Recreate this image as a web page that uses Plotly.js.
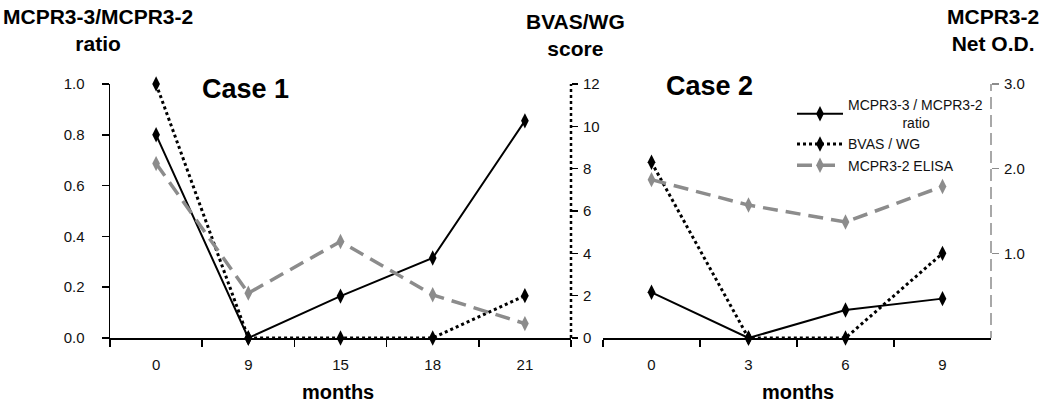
<!DOCTYPE html>
<html><head><meta charset="utf-8">
<script src="https://cdn.plot.ly/plotly-3.0.1.min.js"></script>
<style>html,body{margin:0;padding:0;background:#fff}#chart{width:1050px;height:405px}</style>
</head><body><div id="chart"></div>
<script>
// ---- data ----
const case1Months = ['0', '9', '15', '18', '21'];
const case1Ratio = [0.80, 0.00, 0.165, 0.315, 0.855];
const case1Bvas = [12, 0, 0, 0, 2];
const case1Elisa = [2.06, 0.53, 1.14, 0.51, 0.17];

const case2Months = ['0', '3', '6', '9'];
const case2Ratio = [0.18, 0.00, 0.11, 0.155];
const case2Bvas = [8.3, 0, 0, 4];
const case2Elisa = [1.87, 1.57, 1.37, 1.79];

const ratioTicks = [0, 0.2, 0.4, 0.6, 0.8, 1.0];
const bvasTicks = [0, 2, 4, 6, 8, 10, 12];
const odTicks = [1, 2, 3];

const seriesNames = ['MCPR3-3 / MCPR3-2<br>\u00a0\u00a0\u00a0\u00a0\u00a0\u00a0\u00a0\u00a0\u00a0\u00a0\u00a0\u00a0\u00a0\u00a0ratio', 'BVAS / WG', 'MCPR3-2 ELISA'];

// ---- styling ----
const FONT = 'Liberation Sans, Arial, sans-serif';
const GREY = '#8c8c8c';
const ratioStyle = {line: {color: '#000', width: 2}, marker: {symbol: 'diamond-tall', size: 11, color: '#000'}};
const bvasStyle = {line: {color: '#000', width: 3, dash: 'dot'}, marker: {symbol: 'diamond-tall', size: 11, color: '#000'}};
const elisaStyle = {line: {color: GREY, width: 3.5, dash: '15px,8px'}, marker: {symbol: 'diamond-tall', size: 11, color: GREY}};

function tr(x, y, xa, ya, st, name, show) {
  return Object.assign({
    type: 'scatter', mode: 'lines+markers', x: x, y: y, xaxis: xa, yaxis: ya,
    name: name, showlegend: show, cliponaxis: false, hoverinfo: 'skip'
  }, JSON.parse(JSON.stringify(st)));
}

const data = [
  tr(case1Months, case1Elisa, 'x', 'y3', elisaStyle, seriesNames[2], false),
  tr(case1Months, case1Bvas, 'x', 'y2', bvasStyle, seriesNames[1], false),
  tr(case1Months, case1Ratio, 'x', 'y', ratioStyle, seriesNames[0], false),
  tr(case2Months, case2Elisa, 'x2', 'y6', elisaStyle, seriesNames[2], true),
  tr(case2Months, case2Bvas, 'x2', 'y5', bvasStyle, seriesNames[1], true),
  tr(case2Months, case2Ratio, 'x2', 'y4', ratioStyle, seriesNames[0], true)
];
data[3].legendrank = 3; data[4].legendrank = 2; data[5].legendrank = 1;

const W = 1050, H = 405;
const yDom = [(H - 338) / H, (H - 84) / H];
const tickFont = {family: FONT, size: 15, color: '#111'};

const xBase = {
  type: 'category', tickson: 'boundaries', ticks: 'outside', ticklen: 7, tickwidth: 1.5, tickcolor: '#000',
  showline: true, linecolor: '#000', linewidth: 1.5, showgrid: false, zeroline: false,
  tickfont: tickFont, ticklabelstandoff: 12, fixedrange: true
};

const layout = {
  width: W, height: H, margin: {l: 0, r: 0, t: 0, b: 0},
  paper_bgcolor: '#fff', plot_bgcolor: 'rgba(0,0,0,0)',
  font: {family: FONT, color: '#000'},
  xaxis: Object.assign({}, xBase, {domain: [110 / W, 571 / W], anchor: 'y', range: [-0.5, 4.5]}),
  yaxis: {domain: yDom, anchor: 'x', range: [0, 1], tickvals: ratioTicks, tickformat: '.1f',
    ticks: 'outside', ticklen: 7, tickwidth: 1.5, tickcolor: '#000', showline: true, linecolor: '#000', linewidth: 1.5,
    showgrid: false, zeroline: false, tickfont: tickFont, ticklabelstandoff: 14},
  yaxis2: {overlaying: 'y', anchor: 'x', side: 'right', range: [0, 12], tickvals: bvasTicks,
    ticks: 'outside', ticklen: 6, tickwidth: 1.5, tickcolor: '#000', showline: false,
    showgrid: false, zeroline: false, tickfont: tickFont, ticklabelstandoff: 2},
  yaxis3: {overlaying: 'y', anchor: 'x', range: [0, 3], visible: false},
  xaxis2: Object.assign({}, xBase, {domain: [603 / W, 991 / W], anchor: 'y4', range: [-0.5, 3.5]}),
  yaxis4: {domain: yDom, anchor: 'x2', range: [0, 1], visible: false},
  yaxis5: {overlaying: 'y4', anchor: 'x2', range: [0, 12], visible: false},
  yaxis6: {overlaying: 'y4', anchor: 'x2', side: 'right', range: [0, 3], tickvals: odTicks, tickformat: '.1f',
    ticks: 'outside', ticklen: 7, tickwidth: 1.5, tickcolor: GREY, showline: false,
    showgrid: false, zeroline: false, tickfont: tickFont, ticklabelstandoff: 2},
  shapes: [
    {type: 'line', xref: 'x domain', yref: 'y2', x0: 1, x1: 1, y0: 0, y1: 12, line: {color: '#000', width: 2.5, dash: 'dot'}},
    {type: 'line', xref: 'x2 domain', yref: 'y6', x0: 1, x1: 1, y0: -0.06, y1: 3, line: {color: GREY, width: 1.5, dash: '12px,6px'}}
  ],
  legend: {x: 792 / W, y: (H - 89) / H, xanchor: 'left', yanchor: 'top', bgcolor: 'rgba(0,0,0,0)',
    font: {family: FONT, size: 14, color: '#111'}, itemwidth: 46, tracegroupgap: 0, traceorder: 'normal'},
  annotations: [
    {xref: 'paper', yref: 'paper', x: 245 / W, y: (H - 89) / H, text: '<b>Case 1</b>', showarrow: false,
      xanchor: 'center', yanchor: 'middle', font: {family: FONT, size: 27, color: '#000'}},
    {xref: 'paper', yref: 'paper', x: 709 / W, y: (H - 86) / H, text: '<b>Case 2</b>', showarrow: false,
      xanchor: 'center', yanchor: 'middle', font: {family: FONT, size: 27, color: '#000'}},
    {xref: 'paper', yref: 'paper', x: 98 / W, y: (H - 30) / H, text: '<b>MCPR3-3/MCPR3-2<br>ratio</b>', showarrow: false,
      xanchor: 'center', yanchor: 'middle', font: {family: FONT, size: 21, color: '#000'}},
    {xref: 'paper', yref: 'paper', x: 575 / W, y: (H - 35) / H, text: '<b>BVAS/WG<br>score</b>', showarrow: false,
      xanchor: 'center', yanchor: 'middle', font: {family: FONT, size: 21, color: '#000'}},
    {xref: 'paper', yref: 'paper', x: 993 / W, y: (H - 30) / H, text: '<b>MCPR3-2<br>Net O.D.</b>', showarrow: false,
      xanchor: 'center', yanchor: 'middle', font: {family: FONT, size: 21, color: '#000'}},
    {xref: 'paper', yref: 'paper', x: 338 / W, y: (H - 392) / H, text: '<b>months</b>', showarrow: false,
      xanchor: 'center', yanchor: 'middle', font: {family: FONT, size: 20, color: '#000'}},
    {xref: 'paper', yref: 'paper', x: 798 / W, y: (H - 392) / H, text: '<b>months</b>', showarrow: false,
      xanchor: 'center', yanchor: 'middle', font: {family: FONT, size: 20, color: '#000'}}
  ]
};

Plotly.newPlot('chart', data, layout, {staticPlot: true, displayModeBar: false});
</script>
</body></html>
